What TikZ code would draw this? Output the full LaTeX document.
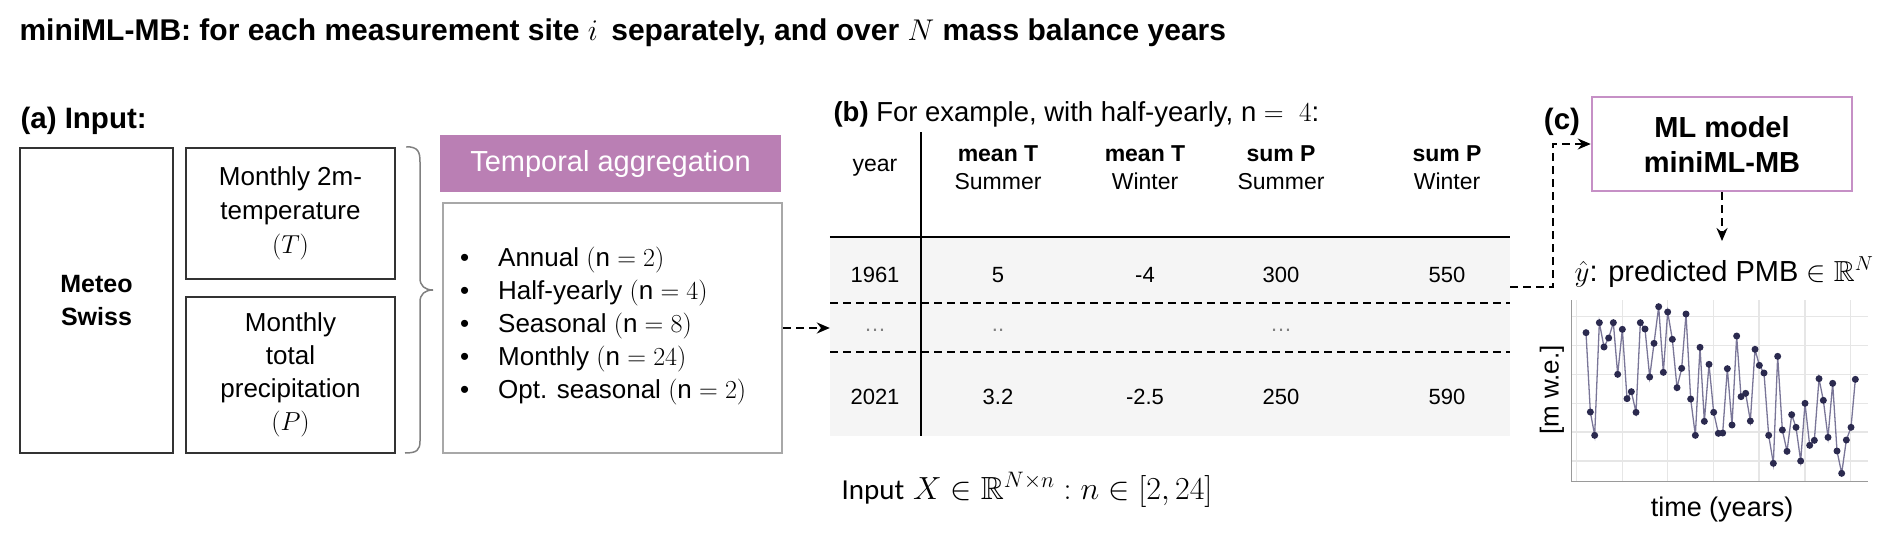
\documentclass[tikz,border=0pt]{standalone}
\usepackage{fix-cm}
\usepackage{amssymb}
\usepackage{fontspec}
\setmainfont{Liberation Sans}
\newfontfamily\calib{Carlito}
\usetikzlibrary{arrows.meta}
\definecolor{purp}{HTML}{BA7FB4}
\definecolor{purpline}{HTML}{C690C6}
\definecolor{boxgray}{HTML}{333333}
\definecolor{lgray}{HTML}{A8A8A8}
\definecolor{tabbg}{HTML}{F5F5F5}
\definecolor{gridc}{HTML}{E6E6E6}
\definecolor{axisc}{HTML}{9A9A9A}
\definecolor{ptc}{HTML}{2B2A4F}
\definecolor{linec}{HTML}{7A7698}
\newcommand{\fsz}[2]{\fontsize{#1}{#2}\selectfont}
\begin{document}
\begin{tikzpicture}[x=1pt,y=-1pt,
  darkbox/.style={draw=boxgray, line width=2.5pt, inner sep=0pt, align=center},
  conn/.style={dashed, dash pattern=on 8pt off 5pt, line width=2pt, -{Stealth[length=13pt,width=11pt]}},
  hdr/.style={align=center, font=\fsz{23}{28}},
  cell/.style={font=\fsz{22}{26}},
  dots/.style={font=\fsz{22}{26}, text=gray}]
\useasboundingbox (0,0) rectangle (1892,544);

% title
\node[anchor=west, font=\bfseries\fsz{30}{34}] (title) at (16,33)
  {miniML-MB: for each measurement site $i$\, separately, and over $N$ mass balance years};

% (a)
\node[anchor=west, font=\bfseries\fsz{29.5}{34}] (alab) at (17,121) {(a) Input:};
\node[darkbox, minimum width=153pt, minimum height=305pt, font=\bfseries\fsz{25}{33}] (meteo) at (96.5,300.5) {Meteo\\Swiss};
\node[darkbox, minimum width=209pt, minimum height=131pt, font=\fsz{26}{34}] (temp) at (290.5,213.5) {Monthly 2m-\\temperature\\$(T)$};
\node[darkbox, minimum width=209pt, minimum height=156pt, font=\fsz{26}{33}] (prec) at (290.5,375) {Monthly\\total\\precipitation\\$(P)$};

% brace
\draw[line width=1.5pt, color=gray] (temp.north east) ++(10,0) coordinate (bt)
  .. controls ++(12,0) and (420,152) .. (420,162) -- (420,278)
  .. controls (420,286) and (425,290) .. (433,290) coordinate (btip)
  .. controls (425,290) and (420,294) .. (420,302) -- (420,441)
  .. controls (420,450) and (417,453) .. (405,453);

% temporal aggregation
\node[fill=purp, minimum width=341pt, minimum height=57pt, inner sep=0pt, text=white, font=\fsz{29}{34}] (tagg) at (610.5,163.5) {Temporal aggregation};
\node[draw=lgray, line width=2.5pt, minimum width=339pt, minimum height=250pt, inner sep=0pt] (list) at (612.5,328) {};
\node[anchor=west, align=left, font=\fsz{26}{33}, inner sep=0pt] (items) at (460,326) {%
\makebox[38pt][l]{\textbullet}Annual $(\mathrm{n}=2)$\\
\makebox[38pt][l]{\textbullet}Half-yearly $(\mathrm{n}=4)$\\
\makebox[38pt][l]{\textbullet}Seasonal $(\mathrm{n}=8)$\\
\makebox[38pt][l]{\textbullet}Monthly $(\mathrm{n}=24)$\\
\makebox[38pt][l]{\textbullet}Opt. seasonal $(\mathrm{n}=2)$};

% (b) table
\node[anchor=west, font=\fsz{27.5}{32}] (blab) at (830,114) {\textbf{(b)} For example, with half-yearly, $\mathrm{n}=\ 4$:};
\node[fill=tabbg, minimum width=680pt, minimum height=199pt, inner sep=0pt] (tab) at (1170,336.5) {};
\draw[line width=1.5pt] (tab.north west) -- (tab.north east);
\draw[line width=1.5pt] (921,132) -- (921,436);
\draw[dashed, dash pattern=on 8pt off 5pt, line width=2pt] (830,303) -- (1510,303);
\draw[dashed, dash pattern=on 8pt off 5pt, line width=2pt] (830,352) -- (1510,352);
\draw[conn] (list.east) -- (list.east -| tab.west);

\node[hdr] (hy) at (875,168) {year};
\node[hdr] (h1) at (998,168) {\textbf{mean T}\\Summer};
\node[hdr] (h2) at (1145,168) {\textbf{mean T}\\Winter};
\node[hdr] (h3) at (1281,168) {\textbf{sum P}\\Summer};
\node[hdr] (h4) at (1447,168) {\textbf{sum P}\\Winter};

\node[cell] (r1y) at (875,275) {1961};
\node[cell] (r11) at (998,275) {5};
\node[cell] (r12) at (1145,275) {-4};
\node[cell] (r13) at (1281,275) {300};
\node[cell] (r14) at (1447,275) {550};

\node[dots] (d0) at (875,330) {\dots};
\node[dots] (d1) at (998,330) {..};
\node[dots] (d3) at (1281,330) {\dots};

\node[cell] (r2y) at (875,397) {2021};
\node[cell] (r21) at (998,397) {3.2};
\node[cell] (r22) at (1145,397) {-2.5};
\node[cell] (r23) at (1281,397) {250};
\node[cell] (r24) at (1447,397) {590};

\node[anchor=west, font=\fsz{32}{36}] (inX) at (838,490) {{\calib\fsz{29}{34}Input} $X\in\mathbb{R}^{N\times n} : n\in[2,24]$};

% (c)
\node[font=\bfseries\fsz{29.5}{34}] (clab) at (1562,122) {(c)};
\node[draw=purpline, line width=2.5pt, minimum width=260pt, minimum height=94pt, inner sep=0pt, align=center, font=\bfseries\fsz{29}{35}] (ml) at (1722,144) {ML model\\miniML-MB};
\coordinate (tabR) at (1510,287);
\draw[conn] (tabR) -- (1553,287) |- (ml.west);
\coordinate (yhatTop) at (1722,241);
\draw[conn] (ml.south) -- (yhatTop);
\node[font=\fsz{29}{33}, inner sep=1pt] (yhat) at (1724,272) {$\hat{y}$: predicted PMB $\in\mathbb{R}^N$};

% plot
\begin{scope}[shift={(1500,280)}, x=0.33333pt, y=-0.33333pt]
  \foreach \gy in {110,197,283,370,456,543} \draw[gridc, line width=1.2pt] (215,\gy) -- (1105,\gy);
  \foreach \gx in {230,368,503,640,777,915,1052} \draw[gridc, line width=1.2pt] (\gx,60) -- (\gx,605);
  \draw[axisc, line width=1.2pt] (215,60) -- (215,605) -- (1105,605);
  \draw[linec, line width=1.3pt] plot coordinates {
   (258,158) (271,396) (284,466) (298,128) (312,201) (326,174) (340,128) (353,283) (367,148) (381,356)
   (394,335) (408,397) (421,128) (435,147) (449,291) (462,190) (476,80) (490,277) (503,96) (517,178)
   (531,323) (545,265) (558,102) (572,357) (586,466) (600,202) (613,424) (627,253) (641,397) (655,460)
   (668,459) (682,266) (696,435) (710,168) (723,350) (737,340) (751,423) (765,208) (778,256) (792,279)
   (806,466) (820,550) (833,229) (847,450) (861,514) (875,404) (888,442) (902,543) (915,370) (929,496)
   (943,481) (957,296) (970,361) (984,472) (998,310) (1011,513) (1025,580) (1039,480) (1053,442) (1066,298)};
  \foreach \px/\py in {258/158,271/396,284/466,298/128,312/201,326/174,340/128,353/283,367/148,381/356,
   394/335,408/397,421/128,435/147,449/291,462/190,476/80,490/277,503/96,517/178,
   531/323,545/265,558/102,572/357,586/466,600/202,613/424,627/253,641/397,655/460,
   668/459,682/266,696/435,710/168,723/350,737/340,751/423,765/208,778/256,792/279,
   806/466,820/550,833/229,847/450,861/514,875/404,888/442,902/543,915/370,929/496,
   943/481,957/296,970/361,984/472,998/310,1011/513,1025/580,1039/480,1053/442,1066/298}
   \fill[ptc] (\px,\py) circle[radius=3.5pt];
\end{scope}
\node[rotate=90, font=\fsz{26}{30}] (ylab) at (1552,390) {[m w.e.]};
\node[font=\fsz{27}{31}] (xlab) at (1722,510) {time (years)};
\end{tikzpicture}
\end{document}
